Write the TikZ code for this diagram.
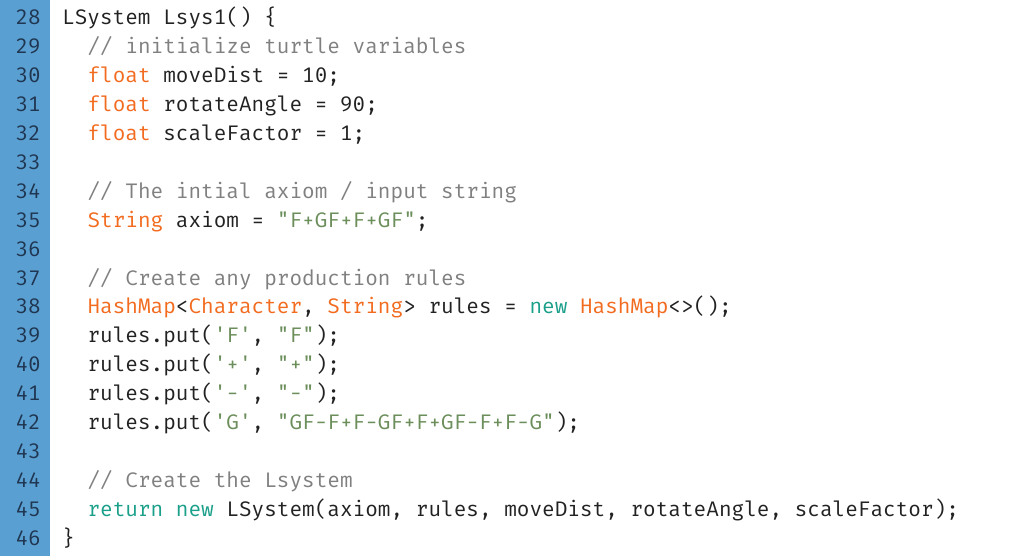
\documentclass[tikz,border=0pt]{standalone}
\usepackage{fontspec}
\usepackage{xcolor}
\newfontfamily\codefont{Fira Mono}
\definecolor{gutter}{HTML}{5A9FD1}
\definecolor{lnum}{HTML}{1F3550}
\definecolor{kw}{HTML}{F26B1F}
\definecolor{tl}{HTML}{1AA08A}
\definecolor{str}{HTML}{6B8E5A}
\definecolor{cmt}{HTML}{808080}
\definecolor{txt}{HTML}{222222}
\begin{document}
\begin{tikzpicture}[x=1pt,y=1pt,
  codeline/.style={anchor=base west,inner sep=0pt,font=\codefont\fontsize{21.05}{24}\selectfont,text=txt},
  numline/.style={anchor=base east,inner sep=0pt,font=\codefont\fontsize{21.05}{24}\selectfont,text=lnum}]
\fill[white] (0,0) rectangle (1024,556);
\useasboundingbox (0,0) rectangle (1024,556);
\fill[gutter] (0,0) rectangle (50,556);
\foreach \n [count=\i from 0] in {28,...,46} {
  \node[numline] (n\n) at (41,{556-25-28.89*\i}) {\n};
}
\def\ya#1{{556-25-28.89*(#1-28)}}
\node[codeline] (l28) at (62,\ya{28}) {LSystem Lsys1() \{};
\node[codeline] (l29) at (87.3,\ya{29}) {\color{cmt}// initialize turtle variables};
\node[codeline] (l30) at (87.3,\ya{30}) {{\color{kw}float} moveDist = 10;};
\node[codeline] (l31) at (87.3,\ya{31}) {{\color{kw}float} rotateAngle = 90;};
\node[codeline] (l32) at (87.3,\ya{32}) {{\color{kw}float} scaleFactor = 1;};
\node[codeline] (l34) at (87.3,\ya{34}) {\color{cmt}// The intial axiom / input string};
\node[codeline] (l35) at (87.3,\ya{35}) {{\color{kw}String} axiom = {\color{str}"F+GF+F+GF"};};
\node[codeline] (l37) at (87.3,\ya{37}) {\color{cmt}// Create any production rules};
\node[codeline] (l38) at (87.3,\ya{38}) {{\color{kw}HashMap}<{\color{kw}Character}, {\color{kw}String}> rules = {\color{tl}new} {\color{kw}HashMap}<>();};
\node[codeline] (l39) at (87.3,\ya{39}) {rules.put({\color{str}'F'}, {\color{str}"F"});};
\node[codeline] (l40) at (87.3,\ya{40}) {rules.put({\color{str}'+'}, {\color{str}"+"});};
\node[codeline] (l41) at (87.3,\ya{41}) {rules.put({\color{str}'-'}, {\color{str}"-"});};
\node[codeline] (l42) at (87.3,\ya{42}) {rules.put({\color{str}'G'}, {\color{str}"GF-F+F-GF+F+GF-F+F-G"});};
\node[codeline] (l44) at (87.3,\ya{44}) {\color{cmt}// Create the Lsystem};
\node[codeline] (l45) at (87.3,\ya{45}) {{\color{tl}return} {\color{tl}new} LSystem(axiom, rules, moveDist, rotateAngle, scaleFactor);};
\node[codeline] (l46) at (62,\ya{46}) {\}};
\end{tikzpicture}
\end{document}
